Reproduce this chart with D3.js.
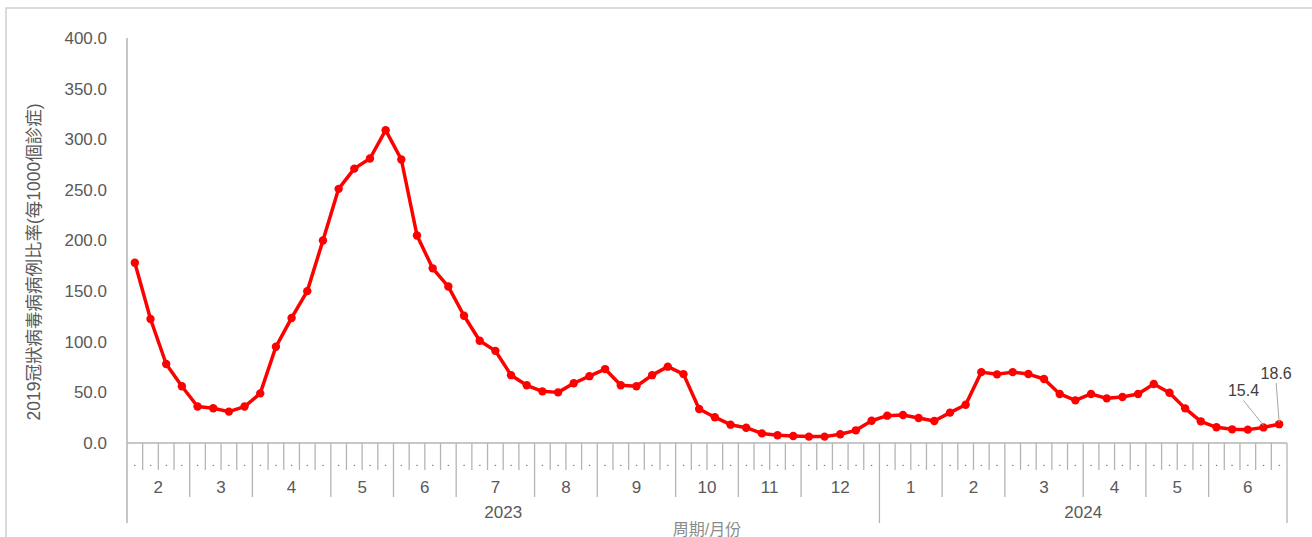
<!DOCTYPE html>
<html>
<head>
<meta charset="utf-8">
<script src="https://cdn.jsdelivr.net/npm/d3@7"></script>
<style>
	body { margin: 0; background: #fff; }
	svg { display: block; font-family: "Liberation Sans", Arial, "Noto Sans CJK TC", sans-serif; }
</style>
</head>
<body>
<div id="chart"></div>
<script>
// weekly rate per 1000 consultations, 2023 wk (Feb) .. 2024 wk (Jun)
const rates = [
	178, 122.5, 78, 56, 36, 34.3, 31, 36, 49, 95, 123.5, 150, 200, 251, 271, 281,
	309, 280, 205, 172.5, 154.5, 125.7, 101, 91, 67, 57, 51, 50, 59, 66, 73, 57,
	56, 67, 75.4, 68, 33.6, 25.5, 18.1, 15.1, 9.5, 7.6, 6.9, 6.3, 6.3, 8.6, 12.5,
	22, 27, 27.7, 24.7, 21.7, 30, 37.8, 70, 67.8, 70, 68.1, 63.2, 48.4, 42.1, 48.4,
	44.1, 45.4, 48.4, 58.3, 49.7, 34.2, 21.4, 15.5, 13.5, 13.2, 15.4, 18.6
];
// months: label and number of weeks
const months2023 = [["2", 4], ["3", 4], ["4", 5], ["5", 4], ["6", 4], ["7", 5], ["8", 4], ["9", 5], ["10", 4], ["11", 4], ["12", 5]];
const months2024 = [["1", 4], ["2", 4], ["3", 5], ["4", 4], ["5", 4], ["6", 5]];
const years = [["2023", months2023], ["2024", months2024]];
const yTicks = [0, 50, 100, 150, 200, 250, 300, 350, 400];
const labelled = [72, 73]; // weeks with data labels

const yTitle = "2019冠狀病毒病病例比率(每1000個診症)";
const xTitle = "周期/月份";

//////////////////////////// set up ////////////////////////////

const width = 1312, height = 537;
const plotLeft = 127, plotRight = 1287, plotTop = 38, plotBase = 443;
const grey = "#595959", axisGrey = "#b4b4b4";

const svg = d3.select("#chart").append("svg")
	.attr("width", width).attr("height", height);

// chart frame
svg.append("rect")
	.attr("x", 6).attr("y", 8)
	.attr("width", width + 20).attr("height", height + 20)
	.attr("fill", "none").attr("stroke", "#d0d0d0").attr("stroke-width", 1.5);

//////////////////////////// scales ////////////////////////////

const xScale = d3.scaleBand()
	.domain(d3.range(rates.length))
	.range([plotLeft, plotRight]);

const yScale = d3.scaleLinear()
	.domain([0, 400])
	.range([plotBase, plotTop]);

const cx = (i) => xScale(i) + xScale.bandwidth() / 2;

//////////////////////////// y axis ////////////////////////////

const yAxis = svg.append("g")
	.attr("transform", `translate(${plotLeft},0)`)
	.call(d3.axisLeft(yScale).tickValues(yTicks).tickFormat(d3.format(".1f")).tickSize(0).tickPadding(20));
yAxis.select(".domain").remove();
yAxis.selectAll("text")
	.attr("fill", grey).style("font-size", "17px");

svg.append("line")
	.attr("x1", plotLeft).attr("x2", plotLeft)
	.attr("y1", plotTop).attr("y2", 523)
	.attr("stroke", axisGrey).attr("stroke-width", 1.5);

svg.append("text")
	.attr("transform", `translate(40,${(101 + 423) / 2}) rotate(-90)`)
	.attr("text-anchor", "middle")
	.attr("fill", grey)
	.style("font-size", "17.5px")
	.text(yTitle);

//////////////////////////// x axis ////////////////////////////

const xAxis = svg.append("g");

xAxis.append("line")
	.attr("x1", plotLeft).attr("x2", plotRight)
	.attr("y1", plotBase).attr("y2", plotBase)
	.attr("stroke", axisGrey).attr("stroke-width", 1.5);

// week level
xAxis.selectAll(".wk")
	.data(d3.range(rates.length))
	.join("text")
	.attr("class", "wk")
	.attr("x", (d) => cx(d))
	.attr("y", 466)
	.attr("text-anchor", "middle")
	.attr("fill", grey)
	.style("font-size", "11px")
	.text(".");

// month + year levels
let wk = 0;
const monthCells = [];
const yearCells = [];
years.forEach(([yr, months]) => {
	const y0 = wk;
	months.forEach(([m, n]) => {
		monthCells.push({ label: m, start: wk, end: wk + n });
		wk += n;
	});
	yearCells.push({ label: yr, start: y0, end: wk });
});

const edge = (i) => (i >= rates.length ? plotRight : xScale(i));

// week boundaries (not on a month edge)
const monthEdges = new Set(monthCells.map((d) => d.start).concat([rates.length]));
xAxis.selectAll(".wkTick")
	.data(d3.range(1, rates.length).filter((i) => !monthEdges.has(i)))
	.join("line")
	.attr("x1", (d) => edge(d)).attr("x2", (d) => edge(d))
	.attr("y1", plotBase).attr("y2", 470)
	.attr("stroke", axisGrey).attr("stroke-width", 1.3);

const yearEdges = new Set(yearCells.map((d) => d.start).concat([rates.length]));
xAxis.selectAll(".mTick")
	.data(monthCells.map((d) => d.start).filter((i) => !yearEdges.has(i)))
	.join("line")
	.attr("x1", (d) => edge(d)).attr("x2", (d) => edge(d))
	.attr("y1", plotBase).attr("y2", 497)
	.attr("stroke", axisGrey).attr("stroke-width", 1.3);

xAxis.selectAll(".yTick")
	.data(yearCells.map((d) => d.start).filter((d) => d > 0).concat([rates.length]))
	.join("line")
	.attr("x1", (d) => edge(d)).attr("x2", (d) => edge(d))
	.attr("y1", plotBase).attr("y2", 523)
	.attr("stroke", axisGrey).attr("stroke-width", 1.3);

xAxis.selectAll(".mLabel")
	.data(monthCells)
	.join("text")
	.attr("x", (d) => (edge(d.start) + edge(d.end)) / 2)
	.attr("y", 493)
	.attr("text-anchor", "middle")
	.attr("fill", grey)
	.style("font-size", "17px")
	.text((d) => d.label);

xAxis.selectAll(".yLabel")
	.data(yearCells)
	.join("text")
	.attr("x", (d) => (edge(d.start) + edge(d.end)) / 2)
	.attr("y", 518)
	.attr("text-anchor", "middle")
	.attr("fill", grey)
	.style("font-size", "17px")
	.text((d) => d.label);

svg.append("text")
	.attr("x", (plotLeft + plotRight) / 2)
	.attr("y", 535)
	.attr("text-anchor", "middle")
	.attr("fill", "#8c8c8c")
	.style("font-size", "16px")
	.text(xTitle);

//////////////////////////// line ////////////////////////////

const line = d3.line()
	.x((d, i) => cx(i))
	.y((d) => yScale(d));

svg.append("path")
	.datum(rates)
	.attr("d", line)
	.attr("fill", "none")
	.attr("stroke", "#ff0000")
	.attr("stroke-width", 3.5)
	.attr("stroke-linejoin", "round");

svg.selectAll(".dot")
	.data(rates)
	.join("circle")
	.attr("class", "dot")
	.attr("cx", (d, i) => cx(i))
	.attr("cy", (d) => yScale(d))
	.attr("r", 4.2)
	.attr("fill", "#ff0000");

//////////////////////////// data labels ////////////////////////////

const offsets = { 72: [-20, -37], 73: [-3, -51] };
labelled.forEach((i) => {
	const px = cx(i), py = yScale(rates[i]);
	const [dx, dy] = offsets[i];
	svg.append("line")
		.attr("x1", px).attr("y1", py - 2)
		.attr("x2", px + dx).attr("y2", py + dy + 10)
		.attr("stroke", "#a6a6a6").attr("stroke-width", 1);
	svg.append("text")
		.attr("x", px + dx)
		.attr("y", py + dy + 6)
		.attr("text-anchor", "middle")
		.attr("fill", "#404040")
		.style("font-size", "16px")
		.text(d3.format(".1f")(rates[i]));
});
</script>
</body>
</html>
